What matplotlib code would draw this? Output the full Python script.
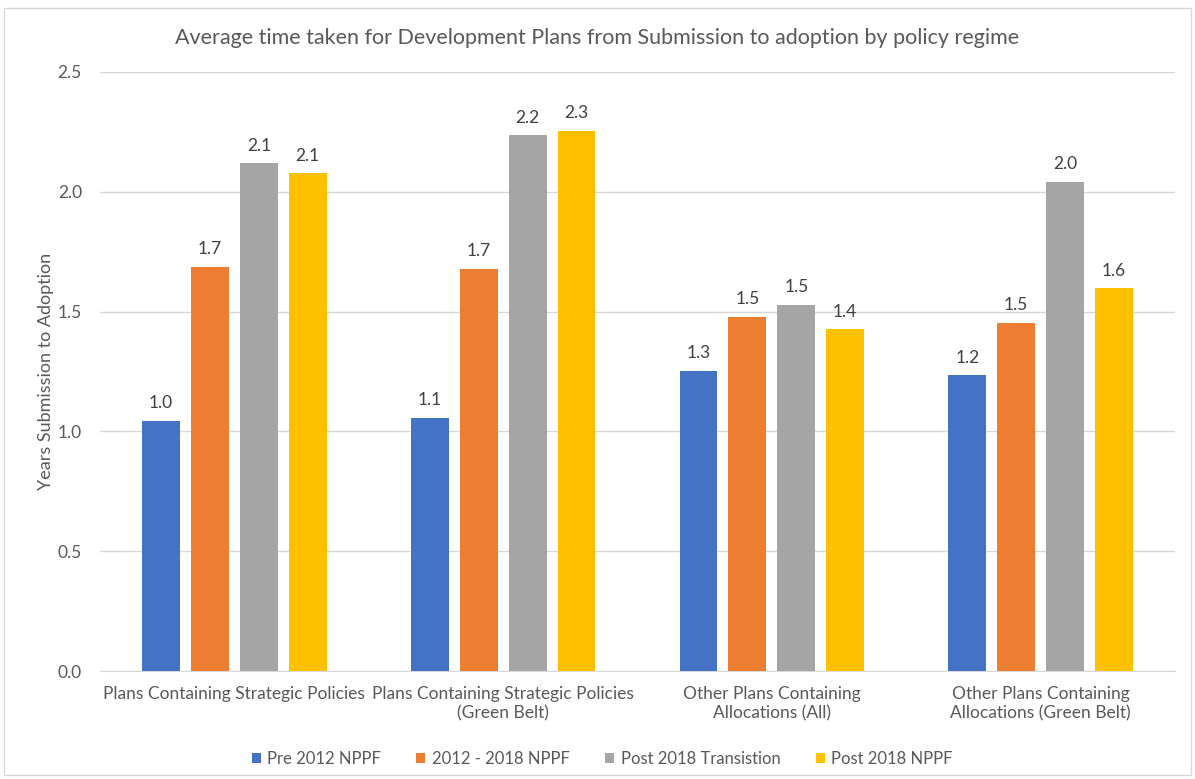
import numpy as np
import matplotlib.pyplot as plt
from matplotlib.patches import Rectangle

plt.rcParams['font.family'] = ['Lato', 'DejaVu Sans']

categories = ['Plans Containing Strategic Policies',
              'Plans Containing Strategic Policies\n(Green Belt)',
              'Other Plans Containing\nAllocations (All)',
              'Other Plans Containing\nAllocations (Green Belt)']
series = ['Pre 2012 NPPF', '2012 - 2018 NPPF', 'Post 2018 Transistion', 'Post 2018 NPPF']
pre_2012 = [1.043, 1.055, 1.252, 1.234]
npff_2012_2018 = [1.687, 1.679, 1.479, 1.452]
post_2018_trans = [2.119, 2.236, 1.528, 2.041]
post_2018 = [2.077, 2.253, 1.426, 1.597]
colors = ['#4472C4', '#ED7D31', '#A5A5A5', '#FFC000']
text_col = '#595959'

fig = plt.figure(figsize=(11.95, 7.79), dpi=100)
ax = fig.add_axes([100 / 1195, 1 - 671 / 779, 1075 / 1195, 599 / 779])
fig.patches.append(Rectangle((4 / 1195, 4 / 779), 1187 / 1195, 767 / 779,
                             transform=fig.transFigure, fill=False,
                             edgecolor='#D9D9D9', lw=1))

x = np.arange(len(categories))
width = 0.141
step = 0.182
for i, (vals, name) in enumerate(zip([pre_2012, npff_2012_2018, post_2018_trans, post_2018], series)):
    pos = x + (i - 1.5) * step
    bars = ax.bar(pos, vals, width, color=colors[i], label=name, zorder=3)
    for b, v in zip(bars, vals):
        ax.annotate(f'{v:.1f}', (b.get_x() + b.get_width() / 2, v), xytext=(0, 7),
                    textcoords='offset points', ha='center', va='bottom',
                    fontsize=12.5, color='#404040')

ax.set_xlim(-0.5, 3.5)
ax.set_ylim(0, 2.5)
ax.set_yticks(np.arange(0, 2.51, 0.5))
ax.set_yticklabels([f'{t:.1f}' for t in np.arange(0, 2.51, 0.5)], fontsize=12.5, color=text_col)
ax.yaxis.grid(True, color='#D9D9D9', lw=1, zorder=0)
ax.set_xticks(x)
ax.set_xticklabels(categories, fontsize=12.5, color=text_col, va='top')
ax.tick_params(axis='both', length=0)
ax.tick_params(axis='x', pad=11)
ax.tick_params(axis='y', pad=13)
for s in ['top', 'right', 'left']:
    ax.spines[s].set_visible(False)
ax.spines['bottom'].set_color('#D9D9D9')
ax.set_ylabel('Years Submission to Adoption', fontsize=13, color=text_col, labelpad=3)

fig.text(0.5, 1 - 38 / 779, 'Average time taken for Development Plans from Submission to adoption by policy regime',
         ha='center', va='center', fontsize=15.5, color=text_col)

fig.legend(loc='center', bbox_to_anchor=(0.504, 1 - 759 / 779), ncol=4, frameon=False,
           fontsize=12, handlelength=0.55, handleheight=0.55, columnspacing=2.1,
           handletextpad=0.4, labelcolor=text_col)

fig.savefig('out.png', dpi=100)
